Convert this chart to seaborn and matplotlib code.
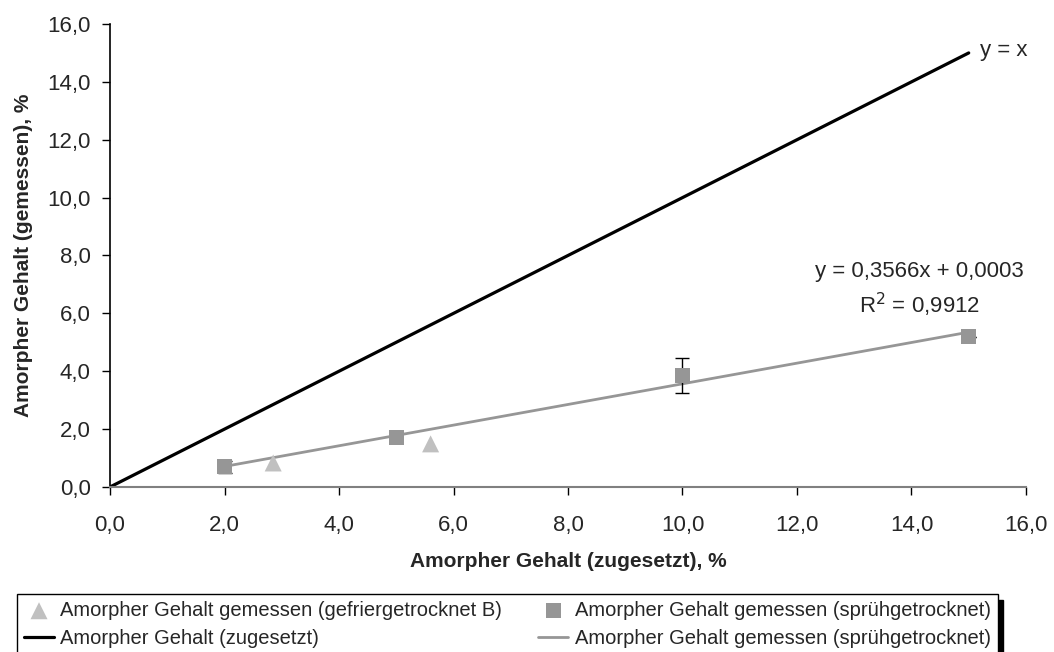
import matplotlib
matplotlib.use("Agg")
import matplotlib.pyplot as plt
import seaborn as sns
import pandas as pd

# gemessene Werte
spray_x = [2.0, 5.0, 10.0, 15.0]
spray_y = [0.70, 1.70, 3.85, 5.20]
spray_err = [0.20, 0.0, 0.60, 0.0]

freeze_x = [2.85, 5.6]
freeze_y = [0.83, 1.49]

ident_x = [0.0, 15.0]
ident_y = [0.0, 15.0]

trend_x = [2.0, 15.0]
trend_y = [0.71, 5.35]

ticks = [0, 2, 4, 6, 8, 10, 12, 14, 16]
tick_labels = ["0,0", "2,0", "4,0", "6,0", "8,0", "10,0", "12,0", "14,0", "16,0"]

sns.set_style("white")
plt.rcParams['font.family'] = ['Liberation Sans', 'DejaVu Sans']

fig = plt.figure(figsize=(10.54, 6.52), dpi=100)
ax = fig.add_axes([0.1044, 0.2531, 0.869, 0.7101])

spray = pd.DataFrame({"x": spray_x, "y": spray_y})
freeze = pd.DataFrame({"x": freeze_x, "y": freeze_y})

sns.lineplot(x=ident_x, y=ident_y, ax=ax, color="black", linewidth=2.3,
             label="Amorpher Gehalt (zugesetzt)", zorder=2)
sns.lineplot(x=trend_x, y=trend_y, ax=ax, color="#969696", linewidth=2.0,
             label="Amorpher Gehalt gemessen (sprühgetrocknet)", zorder=2)
ax.errorbar(spray_x, spray_y, yerr=spray_err, fmt="none", ecolor="black",
            elinewidth=1.0, capsize=5, capthick=1.0, zorder=3)
sns.scatterplot(data=freeze, x="x", y="y", ax=ax, marker="^", s=150,
                color="#c0c0c0", edgecolor="none", zorder=4,
                label="Amorpher Gehalt gemessen (gefriergetrocknet B)")
sns.scatterplot(data=spray, x="x", y="y", ax=ax, marker="s", s=120,
                color="#969696", edgecolor="none", zorder=4,
                label="Amorpher Gehalt gemessen (sprühgetrocknet)")

handles, labels = ax.get_legend_handles_labels()
if ax.get_legend() is not None:
    ax.get_legend().remove()

ax.set_xlim(0, 16)
ax.set_ylim(0, 16)
ax.set_xticks(ticks)
ax.set_xticklabels(tick_labels)
ax.set_yticks(ticks)
ax.set_yticklabels(tick_labels)
ax.tick_params(axis="both", direction="out", length=6, width=1, color="black",
               labelsize=16, bottom=True, left=True)
ax.tick_params(axis="x", pad=14)
ax.tick_params(axis="y", pad=8)
for s in ["top", "right"]:
    ax.spines[s].set_visible(False)
ax.spines["left"].set_color("black")
ax.spines["bottom"].set_color("#808080")
ax.spines["left"].set_linewidth(1.2)
ax.spines["bottom"].set_linewidth(1.5)

ax.set_xlabel("Amorpher Gehalt (zugesetzt), %", fontsize=15, fontweight="bold", labelpad=12)
ax.set_ylabel("Amorpher Gehalt (gemessen), %", fontsize=15, fontweight="bold", labelpad=10)

ax.text(15.2, 15.1, "y = x", fontsize=16, ha="left", va="center")
ax.text(14.14, 7.43, "y = 0,3566x + 0,0003", fontsize=16, ha="center", va="center")
ax.text(14.14, 6.29, "R$^2$ = 0,9912", fontsize=16, ha="center", va="center")

order = [2, 0, 3, 1]
leg = fig.legend([handles[i] for i in order], [labels[i] for i in order],
                 loc="upper left", bbox_to_anchor=(0.016, 0.089), ncol=2,
                 fontsize=14.5, frameon=True, fancybox=False,
                 shadow={"color": "black", "alpha": 1.0, "ox": 4, "oy": -4},
                 borderpad=0.35, labelspacing=0.45, handlelength=1.5,
                 handletextpad=0.3, columnspacing=1.8, borderaxespad=0)
leg.get_frame().set_edgecolor("black")
leg.get_frame().set_linewidth(1.0)

fig.savefig("out.png", dpi=100)
